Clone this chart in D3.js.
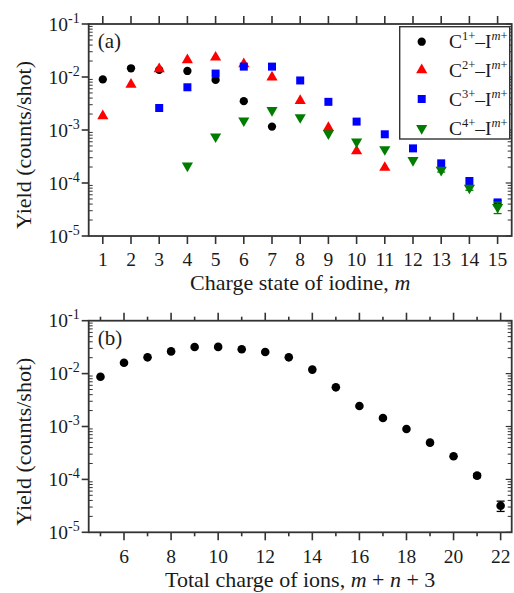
<!DOCTYPE html>
<html>
<head>
<meta charset="utf-8">
<script src="https://cdn.jsdelivr.net/npm/d3@7"></script>
<style>
  html, body { margin: 0; padding: 0; background: #fff; }
  svg { display: block; font-family: "Liberation Serif", "Times New Roman", serif; }
</style>
</head>
<body>
<svg id="chart" width="514" height="593"></svg>
<script>
// ---------- DATA ----------
// Panel (a): yield vs charge state of iodine m
const iodineCharges = [1, 2, 3, 4, 5, 6, 7, 8, 9, 10, 11, 12, 13, 14, 15];

const c1Charge = [1, 2, 3, 4, 5, 6, 7];
const c1Yield  = [9.0e-3, 1.46e-2, 1.36e-2, 1.30e-2, 8.8e-3, 3.5e-3, 1.16e-3];

const c2Charge = [1, 2, 3, 4, 5, 6, 7, 8, 9, 10, 11];
const c2Yield  = [1.84e-3, 7.2e-3, 1.42e-2, 2.1e-2, 2.35e-2, 1.76e-2, 9.9e-3, 3.57e-3, 1.1e-3, 4.0e-4, 1.95e-4];

const c3Charge = [3, 4, 5, 6, 7, 8, 9, 10, 11, 12, 13, 14, 15];
const c3Yield  = [2.6e-3, 6.4e-3, 1.16e-2, 1.57e-2, 1.57e-2, 8.6e-3, 3.4e-3, 1.44e-3, 8.3e-4, 4.5e-4, 2.35e-4, 1.09e-4, 4.3e-5];
const c3Err    = [0, 0, 0, 0, 0, 0, 0, 0, 0, 0, 0, 0, 0.4e-5];

const c4Charge = [4, 5, 6, 7, 8, 9, 10, 11, 12, 13, 14, 15];
const c4Yield  = [2.12e-4, 7.5e-4, 1.5e-3, 2.35e-3, 1.73e-3, 8.6e-4, 6.0e-4, 4.3e-4, 2.68e-4, 1.76e-4, 8.1e-5, 3.5e-5];
const c4Err    = [0, 0, 0, 0, 0, 0, 0, 0, 0, 0.15e-4, 0.8e-5, 0.85e-5];

const seriesNames  = ["1+", "2+", "3+", "4+"];
const seriesColors = ["#000000", "#ff0000", "#0000ff", "#007d00"];

// Panel (b): yield vs total charge m + n + 3
const totalCharge = [5, 6, 7, 8, 9, 10, 11, 12, 13, 14, 15, 16, 17, 18, 19, 20, 21, 22];
const totalYield  = [8.7e-3, 1.6e-2, 2.03e-2, 2.63e-2, 3.18e-2, 3.2e-2, 2.88e-2, 2.56e-2, 2.03e-2, 1.19e-2, 5.5e-3, 2.44e-3, 1.45e-3, 8.98e-4, 4.95e-4, 2.73e-4, 1.18e-4, 3.18e-5];
const totalErr    = [0, 0, 0, 0, 0, 0, 0, 0, 0, 0, 0, 0, 0, 0, 0, 0, 0.1e-4, 0.7e-5];

const yTickExps = [-1, -2, -3, -4, -5];
const bXTickLabels = [6, 8, 10, 12, 14, 16, 18, 20, 22];

// ---------- DRAWING ----------
const svg = d3.select("#chart");
const frameColor = "#333";
const textColor = "#1a1a1a";

function makePanel(opt) {
  const x = d3.scaleLinear().domain(opt.xDomain).range([opt.left, opt.right]);
  const y = d3.scaleLog().domain([1e-5, 1e-1]).range([opt.bottom, opt.top]);
  const g = svg.append("g");

  // x ticks (top and bottom, outward)
  const xt = d3.range(opt.xTickStart, opt.xTickEnd + 1);
  xt.forEach(v => {
    const major = opt.isMajorX(v);
    const len = major ? 8 : 4;
    g.append("line").attr("x1", x(v)).attr("x2", x(v))
      .attr("y1", opt.bottom).attr("y2", opt.bottom + len)
      .attr("stroke", frameColor).attr("stroke-width", 1.6);
    g.append("line").attr("x1", x(v)).attr("x2", x(v))
      .attr("y1", opt.top).attr("y2", opt.top - len)
      .attr("stroke", frameColor).attr("stroke-width", 1.6);
  });
  opt.xLabels.forEach(v => {
    g.append("text").attr("x", x(v)).attr("y", opt.xLabelBaseline)
      .attr("text-anchor", "middle").attr("font-size", 19.5).attr("fill", textColor)
      .text(v);
  });

  // y ticks
  yTickExps.forEach(e => {
    const v = Math.pow(10, e);
    g.append("line").attr("x1", opt.left - 7).attr("x2", opt.left)
      .attr("y1", y(v)).attr("y2", y(v))
      .attr("stroke", frameColor).attr("stroke-width", 1.6);
    g.append("line").attr("x1", opt.right - 6).attr("x2", opt.right)
      .attr("y1", y(v)).attr("y2", y(v))
      .attr("stroke", frameColor).attr("stroke-width", 1.2);
    const t = g.append("text").attr("x", opt.left - 9).attr("y", y(v) + 6.5)
      .attr("text-anchor", "end").attr("font-size", 19.5).attr("fill", textColor);
    t.append("tspan").text("10");
    t.append("tspan").attr("font-size", 14).attr("dy", -8).text(String(e));
    if (e > -5) {
      for (let k = 2; k <= 9; k++) {
        const mv = k * Math.pow(10, e - 1);
        g.append("line").attr("x1", opt.left).attr("x2", opt.left + 4)
          .attr("y1", y(mv)).attr("y2", y(mv))
          .attr("stroke", frameColor).attr("stroke-width", 1);
        g.append("line").attr("x1", opt.right - 4).attr("x2", opt.right)
          .attr("y1", y(mv)).attr("y2", y(mv))
          .attr("stroke", frameColor).attr("stroke-width", 1);
      }
    }
  });

  // frame
  g.append("rect").attr("x", opt.left).attr("y", opt.top)
    .attr("width", opt.right - opt.left).attr("height", opt.bottom - opt.top)
    .attr("fill", "none").attr("stroke", frameColor).attr("stroke-width", 1.8);

  // panel label
  g.append("text").attr("x", opt.left + 9).attr("y", opt.top + 24)
    .attr("font-size", 21).attr("fill", textColor).text(opt.label);

  // y title
  g.append("text")
    .attr("transform", `translate(31,${opt.yTitleCenter}) rotate(-90)`)
    .attr("text-anchor", "middle").attr("font-size", 22).attr("fill", textColor)
    .text("Yield (counts/shot)");

  // x title
  const xt2 = g.append("text").attr("x", (opt.left + opt.right) / 2).attr("y", opt.xTitleBaseline)
    .attr("text-anchor", "middle").attr("font-size", 22).attr("fill", textColor);
  opt.xTitle(xt2);

  return { x, y, g };
}

function drawSeries(p, xs, ys, errs, symbolType, size, color, rotate) {
  const grp = p.g.append("g");
  xs.forEach((xv, i) => {
    const e = errs ? errs[i] : 0;
    if (e > 0) {
      const y1 = p.y(ys[i] - e), y2 = p.y(ys[i] + e), cx = p.x(xv);
      grp.append("line").attr("x1", cx).attr("x2", cx).attr("y1", y1).attr("y2", y2)
        .attr("stroke", color).attr("stroke-width", 1.3);
      [y1, y2].forEach(yy => grp.append("line").attr("x1", cx - 4).attr("x2", cx + 4)
        .attr("y1", yy).attr("y2", yy).attr("stroke", color).attr("stroke-width", 1.3));
    }
  });
  grp.selectAll("path.pt").data(xs.map((xv, i) => [xv, ys[i]])).join("path")
    .attr("class", "pt")
    .attr("d", d3.symbol().type(symbolType).size(size))
    .attr("transform", d => `translate(${p.x(d[0])},${p.y(d[1])})` + (rotate ? " rotate(180)" : ""))
    .attr("fill", color);
}

// ----- Panel (a) -----
const pa = makePanel({
  left: 88.7, right: 511.7, top: 24, bottom: 236,
  xDomain: [0.5, 15.5], xTickStart: 1, xTickEnd: 15,
  isMajorX: () => true, xLabels: iodineCharges, xLabelBaseline: 266,
  label: "(a)", yTitleCenter: 145, xTitleBaseline: 290,
  xTitle: t => { t.append("tspan").text("Charge state of iodine, "); t.append("tspan").attr("font-style", "italic").text("m"); }
});

const symbols = [d3.symbolCircle, d3.symbolTriangle, d3.symbolSquare, d3.symbolTriangle];
const sizes = [54, 54, 64, 54];
drawSeries(pa, c1Charge, c1Yield, null, symbols[0], sizes[0], seriesColors[0], false);
drawSeries(pa, c2Charge, c2Yield, null, symbols[1], sizes[1], seriesColors[1], false);
drawSeries(pa, c3Charge, c3Yield, c3Err, symbols[2], sizes[2], seriesColors[2], false);
drawSeries(pa, c4Charge, c4Yield, c4Err, symbols[3], sizes[3], seriesColors[3], true);

// legend
const lg = pa.g.append("g");
lg.append("rect").attr("x", 399.7).attr("y", 26.7).attr("width", 110).attr("height", 112.3)
  .attr("fill", "#fff").attr("stroke", frameColor).attr("stroke-width", 1.4);
const legendRowY = [41.7, 70, 99, 128.3];
seriesNames.forEach((nm, i) => {
  lg.append("path").attr("d", d3.symbol().type(symbols[i]).size(sizes[i]))
    .attr("transform", `translate(421.7,${legendRowY[i]})` + (i === 3 ? " rotate(180)" : ""))
    .attr("fill", seriesColors[i]);
  const t = lg.append("text").attr("x", 449).attr("y", legendRowY[i] + 6.5)
    .attr("font-size", 19.5).attr("fill", textColor);
  t.append("tspan").text("C");
  t.append("tspan").attr("font-size", 12.5).attr("dy", -8).text(nm);
  t.append("tspan").attr("dy", 8).text("\u2013I");
  t.append("tspan").attr("font-size", 12.5).attr("dy", -8).attr("font-style", "italic").text("m");
  t.append("tspan").attr("font-size", 12.5).text("+");
});

// ----- Panel (b) -----
const pb = makePanel({
  left: 88.7, right: 511.7, top: 320.7, bottom: 532.3,
  xDomain: [4.5, 22.47], xTickStart: 5, xTickEnd: 22,
  isMajorX: v => v % 2 === 0, xLabels: bXTickLabels, xLabelBaseline: 563,
  label: "(b)", yTitleCenter: 441.7, xTitleBaseline: 587,
  xTitle: t => {
    t.append("tspan").text("Total charge of ions, ");
    t.append("tspan").attr("font-style", "italic").text("m");
    t.append("tspan").text(" + ");
    t.append("tspan").attr("font-style", "italic").text("n");
    t.append("tspan").text(" + 3");
  }
});
drawSeries(pb, totalCharge, totalYield, totalErr, d3.symbolCircle, 58, "#000", false);
</script>
</body>
</html>
